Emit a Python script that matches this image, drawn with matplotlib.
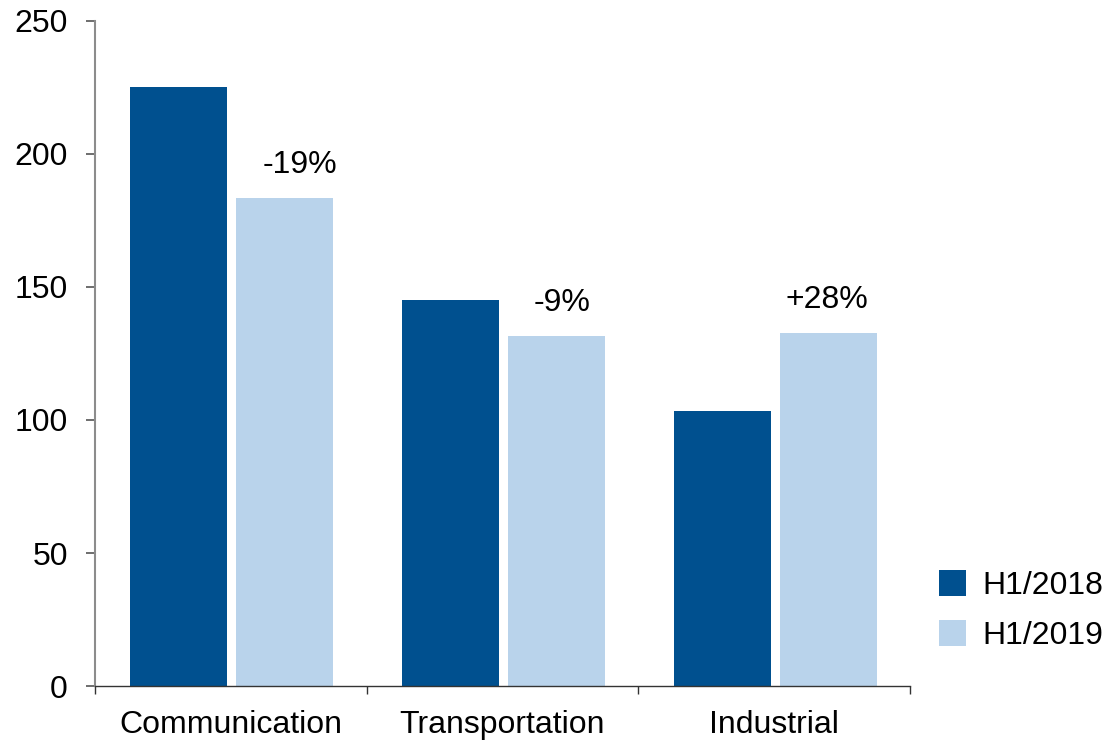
import matplotlib.pyplot as plt
import numpy as np
from matplotlib.patches import Patch

plt.rcParams["font.family"] = ["Liberation Sans", "DejaVu Sans"]

categories = ["Communication", "Transportation", "Industrial"]
series_names = ["H1/2018", "H1/2019"]
h1_2018 = [225.2, 145.1, 103.4]
h1_2019 = [183.5, 131.6, 132.7]
changes = ["-19%", "-9%", "+28%"]

DARK = "#00508F"
LIGHT = "#B9D3EB"
FS = 23

fig = plt.figure(figsize=(11.07, 7.41), dpi=100)
ax = fig.add_axes([0.0858, 0.0742, 0.7362, 0.8975])

x = np.arange(len(categories))
width = 0.357
offset = 0.195
ax.bar(x - offset + 0.004, h1_2018, width, color=DARK)
ax.bar(x + offset + 0.004, h1_2019, width, color=LIGHT)

# change labels sit above the 2019 bars
label_shift = [0.06, 0.025, 0.0]
for xi, v, txt, dx in zip(x, h1_2019, changes, label_shift):
    ax.text(xi + offset + dx, v + 9.3, txt, ha="center", va="baseline",
            fontsize=FS, color="black")

ax.set_xlim(-0.5, len(categories) - 0.5)
ax.set_ylim(0, 250)
ax.set_yticks(np.arange(0, 251, 50))
ax.set_xticks(np.arange(-0.5, len(categories), 1.0))
ax.set_xticklabels([])
ax.set_xticks(x, minor=True)
ax.set_xticklabels(categories, minor=True)

ax.tick_params(axis="y", direction="out", length=6.5, width=1.2,
               color="#555555", pad=13, labelsize=FS)
ax.tick_params(axis="x", which="major", direction="out", length=6,
               width=1.0, color="#333333")
ax.tick_params(axis="x", which="minor", length=0, pad=17, labelsize=FS)

for s in ("top", "right"):
    ax.spines[s].set_visible(False)
ax.spines["left"].set_color("#8C8C8C")
ax.spines["left"].set_linewidth(1.5)
ax.spines["bottom"].set_color("#333333")
ax.spines["bottom"].set_linewidth(1.0)

handles = [Patch(facecolor=DARK), Patch(facecolor=LIGHT)]
fig.legend(handles, series_names, loc="center left",
           bbox_to_anchor=(0.837, 0.176), frameon=False, fontsize=FS,
           handlelength=0.85, handleheight=0.85, handletextpad=0.5,
           labelspacing=0.6, borderaxespad=0)

fig.savefig("out.png", dpi=100)
